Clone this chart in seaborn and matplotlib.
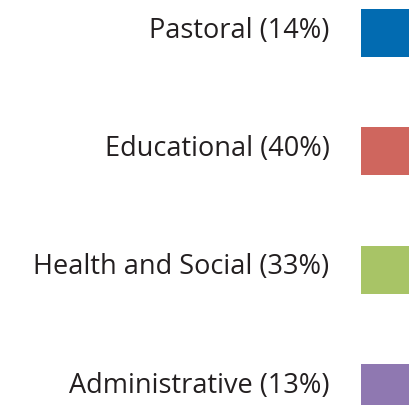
"""
Legend-style chart: share of each category, shown as label + colour square.
"""

import matplotlib
matplotlib.use("Agg")
import matplotlib.pyplot as plt
import pandas as pd
import seaborn as sns

categories = ["Pastoral", "Educational", "Health and Social", "Administrative"]
shares = [14, 40, 33, 13]
colors = ["#026BB1", "#CF665E", "#A8C466", "#8F78B1"]

df = pd.DataFrame({
    "category": categories,
    "share": shares,
    "pos": range(len(categories)),
    "x": [0] * len(categories),
})

sns.set_theme(style="white")
plt.rcParams["font.family"] = ["Open Sans", "DejaVu Sans"]

fig = plt.figure(figsize=(4.16, 4.05), dpi=100)
ax = fig.add_axes([0, 0, 1, 1])

sns.scatterplot(
    data=df, x="x", y="pos", hue="category", palette=colors,
    marker="s", s=1194, linewidth=0, legend=False, ax=ax,
)

for _, row in df.iterrows():
    ax.annotate(
        f"{row['category']} ({row['share']}%)",
        xy=(row["x"], row["pos"]), xytext=(-40, 1.5),
        textcoords="offset points", ha="right", va="center",
        fontsize=19.5, color="#231F20",
    )

ax.set_xlim(-385, 31)
ax.set_ylim(3.145, -0.279)
ax.set_axis_off()

fig.savefig("out.png", dpi=100)
plt.close(fig)
